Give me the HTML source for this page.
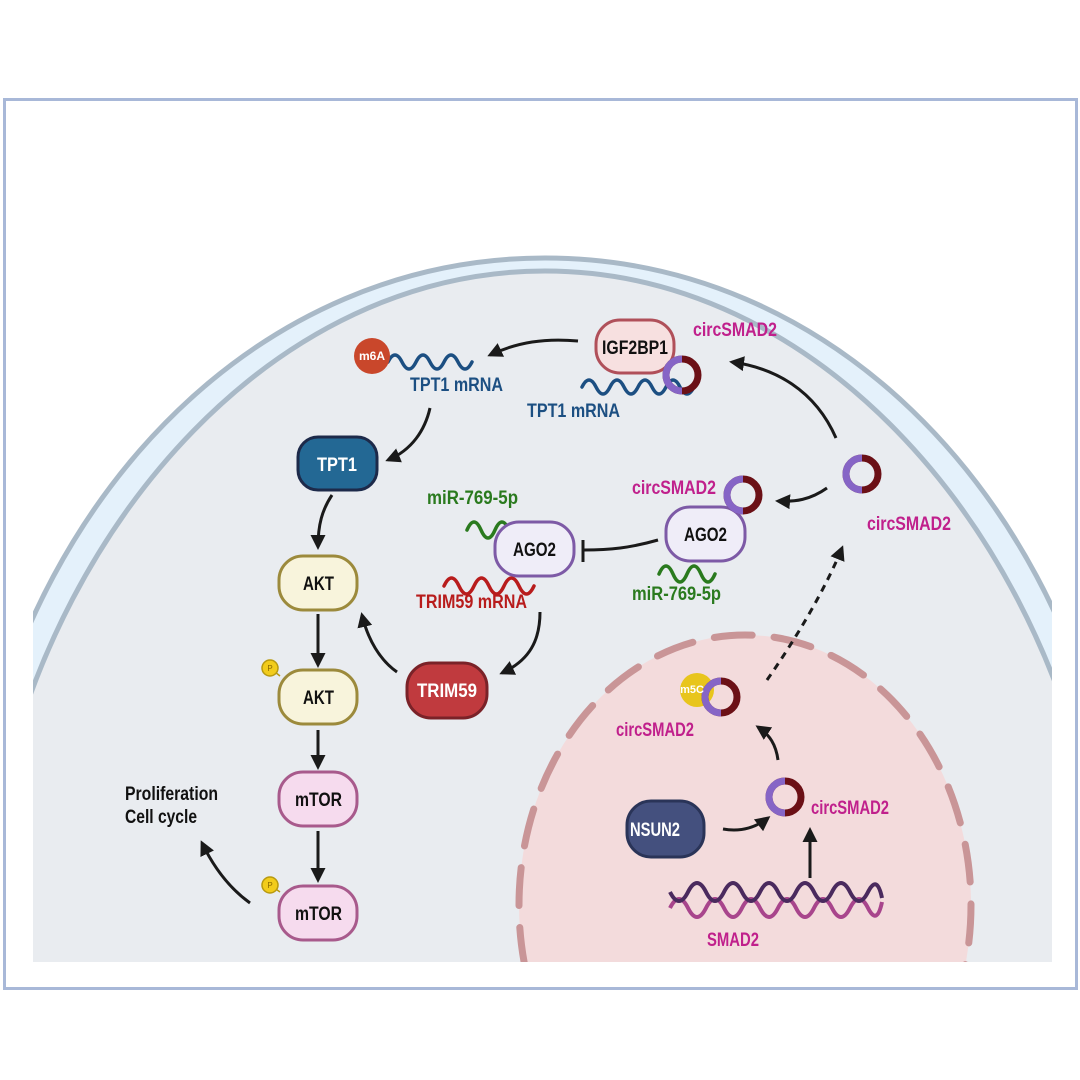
<!DOCTYPE html>
<html><head><meta charset="utf-8"><style>
html,body{margin:0;padding:0;background:#fff;overflow:hidden}
svg{display:block}
text{font-family:"Liberation Sans Narrow","Liberation Sans",sans-serif;font-weight:bold}
</style></head><body>
<svg width="1080" height="1080" viewBox="0 0 1080 1080" xmlns="http://www.w3.org/2000/svg">
<defs>
<marker id="ah" viewBox="0 0 10 10" refX="8" refY="5" markerWidth="5" markerHeight="5" orient="auto-start-reverse">
<path d="M0,0 L10,5 L0,10 z" fill="#1a1a1a"/></marker>
<clipPath id="clip"><rect x="33" y="100" width="1019" height="862"/></clipPath>
</defs>
<rect x="0" y="0" width="1080" height="1080" fill="#fff"/>
<g clip-path="url(#clip)">
<path d="M -20 1100 L -20 780 C 40 490, 260 258, 545 258 C 830 258, 1050 490, 1110 780 L 1110 1100 Z" fill="#e4f1fb" stroke="#a9b9c7" stroke-width="5"/>
<path d="M 0 1100 L 0 800 C 60 520, 275 271, 545 271 C 815 271, 1030 520, 1090 800 L 1090 1100 Z" fill="#e9ecf0" stroke="#a9b9c7" stroke-width="5"/>
<ellipse cx="745" cy="905" rx="226" ry="270" fill="#f3dbdc"/>
<ellipse cx="745" cy="905" rx="226" ry="270" fill="none" stroke="#c99597" stroke-width="7" stroke-linecap="round" stroke-dasharray="38 22"/>
</g>
<rect x="4.5" y="99.5" width="1072" height="889" fill="none" stroke="#a8b8d8" stroke-width="3"/>

<g fill="none" stroke="#1a1a1a" stroke-width="3">
<path d="M 578 341 C 545 338, 518 342, 490 355" marker-end="url(#ah)"/>
<path d="M 430 408 C 425 430, 412 450, 388 460" marker-end="url(#ah)"/>
<path d="M 332 495 C 322 510, 318 525, 318 547" marker-end="url(#ah)"/>
<path d="M 318 614 L 318 665" marker-end="url(#ah)"/>
<path d="M 318 730 L 318 767" marker-end="url(#ah)"/>
<path d="M 318 831 L 318 880" marker-end="url(#ah)"/>
<path d="M 250 903 C 232 890, 215 870, 202 843" marker-end="url(#ah)"/>
<path d="M 397 672 C 380 660, 368 640, 362 615" marker-end="url(#ah)"/>
<path d="M 540 612 C 540 640, 530 660, 502 673" marker-end="url(#ah)"/>
<path d="M 658 540 C 630 548, 610 550, 584 550"/>
<path d="M 583 540 L 583 562"/>
<path d="M 827 488 C 810 500, 795 502, 778 501" marker-end="url(#ah)"/>
<path d="M 836 438 C 815 390, 775 368, 732 362" marker-end="url(#ah)"/>
<path d="M 767 680 C 795 640, 825 590, 842 548" stroke-dasharray="7 6" marker-end="url(#ah)"/>
<path d="M 778 760 C 776 745, 770 735, 758 727" marker-end="url(#ah)"/>
<path d="M 723 829 C 740 832, 755 828, 768 818" marker-end="url(#ah)"/>
<path d="M 810 878 L 810 830" marker-end="url(#ah)"/>
</g>

<g fill="none" stroke-width="3.5" stroke-linecap="round">
<path d="M 388 362 q 7 -14 14 0 t 14 0 t 14 0 t 14 0 t 14 0 t 14 0" stroke="#1c4f82"/>
<path d="M 582 387 q 7 -14 14 0 t 14 0 t 14 0 t 14 0 t 14 0 t 14 0 t 14 0 t 14 0" stroke="#1c4f82"/>
<path d="M 467 530 q 7 -16 14 0 t 14 0 t 14 0 t 14 0" stroke="#2a7a1e"/>
<path d="M 659 574 q 7 -16 14 0 t 14 0 t 14 0 t 14 0" stroke="#2a7a1e"/>
<path d="M 444 586 q 7.5 -16 15 0 t 15 0 t 15 0 t 15 0 t 15 0 t 15 0" stroke="#b81c1c"/>
</g>

<g stroke-width="3">
<rect x="596" y="320" width="78" height="53" rx="24" fill="#f7e0e0" stroke="#b0505a"/>
<rect x="298" y="437" width="79" height="53" rx="20" fill="#236894" stroke="#1d2a4a"/>
<rect x="495" y="522" width="79" height="54" rx="24" fill="#efedf8" stroke="#7d5aa6"/>
<rect x="666" y="507" width="79" height="54" rx="24" fill="#efedf8" stroke="#7d5aa6"/>
<rect x="279" y="556" width="78" height="54" rx="24" fill="#f8f4dc" stroke="#9c8a3c"/>
<rect x="279" y="670" width="78" height="54" rx="24" fill="#f8f4dc" stroke="#9c8a3c"/>
<rect x="279" y="772" width="78" height="54" rx="24" fill="#f6dbee" stroke="#a85a8c"/>
<rect x="279" y="886" width="78" height="54" rx="24" fill="#f6dbee" stroke="#a85a8c"/>
<rect x="407" y="663" width="80" height="55" rx="24" fill="#c03a3e" stroke="#7a2228"/>
<rect x="627" y="801" width="77" height="56" rx="24" fill="#44507e" stroke="#2a3458"/>
</g>
<g stroke="#b89a10" stroke-width="1.5">
<line x1="270" y1="668" x2="280" y2="676"/><circle cx="270" cy="668" r="8" fill="#f2cc1c"/>
<line x1="270" y1="885" x2="280" y2="892"/><circle cx="270" cy="885" r="8" fill="#f2cc1c"/>
</g>
<text x="270" y="671" font-size="8" fill="#8a6a00" text-anchor="middle" style="font-weight:normal">P</text>
<text x="270" y="888" font-size="8" fill="#8a6a00" text-anchor="middle" style="font-weight:normal">P</text>
<circle cx="372" cy="356" r="18" fill="#c9472b"/>
<text x="372" y="360" font-size="12" fill="#fff" text-anchor="middle">m6A</text>
<circle cx="697" cy="690" r="17" fill="#e8c51c"/>

<g fill="none" stroke-width="7">
<circle cx="682" cy="375" r="16" stroke="#6b1016"/><path d="M 682 359 A 16 16 0 0 0 666 375 A 16 16 0 0 0 682 391" stroke="#8665c6"/>
<circle cx="743" cy="495" r="16" stroke="#6b1016"/><path d="M 743 479 A 16 16 0 0 0 727 495 A 16 16 0 0 0 743 511" stroke="#8665c6"/>
<circle cx="862" cy="474" r="16" stroke="#6b1016"/><path d="M 862 458 A 16 16 0 0 0 846 474 A 16 16 0 0 0 862 490" stroke="#8665c6"/>
<circle cx="721" cy="697" r="16" stroke="#6b1016"/><path d="M 721 681 A 16 16 0 0 0 705 697 A 16 16 0 0 0 721 713" stroke="#8665c6"/>
<circle cx="785" cy="797" r="16" stroke="#6b1016"/><path d="M 785 781 A 16 16 0 0 0 769 797 A 16 16 0 0 0 785 813" stroke="#8665c6"/>
</g>
<text x="692" y="693" font-size="11" fill="#fff" text-anchor="middle">m5C</text>

<g fill="none" stroke-width="4">
<path d="M 670 908 q 9 -18 18 0 t 18 0 t 18 0 t 18 0 t 18 0 t 18 0 t 18 0 t 18 0 t 18 0 t 18 0 t 18 0 t 14 -6" stroke="#a8458c"/>
<path d="M 670 892 q 9 18 18 0 t 18 0 t 18 0 t 18 0 t 18 0 t 18 0 t 18 0 t 18 0 t 18 0 t 18 0 t 18 0 t 14 6" stroke="#4a2a5e"/>
</g>

<g font-size="19">
<text x="602" y="354" textLength="66" lengthAdjust="spacingAndGlyphs" fill="#111">IGF2BP1</text>
<text x="317" y="471" textLength="40" lengthAdjust="spacingAndGlyphs" fill="#fff">TPT1</text>
<text x="513" y="556" textLength="43" lengthAdjust="spacingAndGlyphs" fill="#111">AGO2</text>
<text x="684" y="541" textLength="43" lengthAdjust="spacingAndGlyphs" fill="#111">AGO2</text>
<text x="303" y="590" textLength="31" lengthAdjust="spacingAndGlyphs" fill="#111">AKT</text>
<text x="303" y="704" textLength="31" lengthAdjust="spacingAndGlyphs" fill="#111">AKT</text>
<text x="295" y="806" textLength="47" lengthAdjust="spacingAndGlyphs" fill="#111">mTOR</text>
<text x="295" y="920" textLength="47" lengthAdjust="spacingAndGlyphs" fill="#111">mTOR</text>
<text x="417" y="697" textLength="60" lengthAdjust="spacingAndGlyphs" fill="#fff">TRIM59</text>
<text x="630" y="836" textLength="50" lengthAdjust="spacingAndGlyphs" fill="#fff">NSUN2</text>
<text x="693" y="336" textLength="84" lengthAdjust="spacingAndGlyphs" fill="#c0208c">circSMAD2</text>
<text x="632" y="494" textLength="84" lengthAdjust="spacingAndGlyphs" fill="#c0208c">circSMAD2</text>
<text x="867" y="530" textLength="84" lengthAdjust="spacingAndGlyphs" fill="#c0208c">circSMAD2</text>
<text x="616" y="736" textLength="78" lengthAdjust="spacingAndGlyphs" fill="#c0208c">circSMAD2</text>
<text x="811" y="814" textLength="78" lengthAdjust="spacingAndGlyphs" fill="#c0208c">circSMAD2</text>
<text x="707" y="946" textLength="52" lengthAdjust="spacingAndGlyphs" fill="#c0208c">SMAD2</text>
<text x="410" y="391" textLength="93" lengthAdjust="spacingAndGlyphs" fill="#1c4f82">TPT1 mRNA</text>
<text x="527" y="417" textLength="93" lengthAdjust="spacingAndGlyphs" fill="#1c4f82">TPT1 mRNA</text>
<text x="427" y="504" textLength="91" lengthAdjust="spacingAndGlyphs" fill="#2a7a1e">miR-769-5p</text>
<text x="632" y="600" textLength="89" lengthAdjust="spacingAndGlyphs" fill="#2a7a1e">miR-769-5p</text>
<text x="416" y="608" textLength="111" lengthAdjust="spacingAndGlyphs" fill="#b81c1c">TRIM59 mRNA</text>
<text x="125" y="800" textLength="93" lengthAdjust="spacingAndGlyphs" fill="#111">Proliferation</text>
<text x="125" y="823" textLength="72" lengthAdjust="spacingAndGlyphs" fill="#111">Cell cycle</text>
</g>
</svg>
</body></html>
